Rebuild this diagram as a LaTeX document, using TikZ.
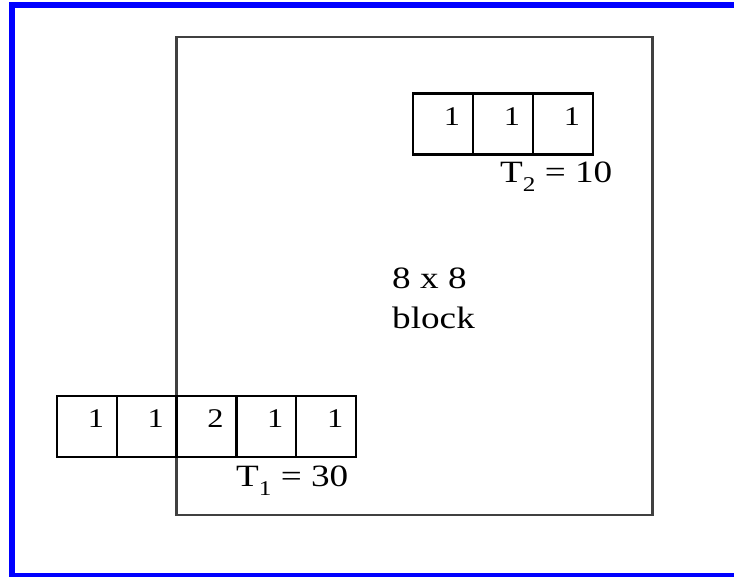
\documentclass[tikz,border=0pt]{standalone}
\usepackage{fontspec}
\setmainfont{Liberation Serif}[FakeStretch=1.2]
\newcommand\mysub[1]{\raisebox{-0.3em}{\fontsize{21}{21}\selectfont #1}}
\begin{document}
\begin{tikzpicture}[x=1pt,y=-1pt,
  frame/.style={draw=blue, line width=6pt},
  blockbox/.style={draw=black!75, line width=2.6pt},
  cell/.style={draw=black, line width=2.4pt, minimum width=59.8pt, minimum height=61pt, inner sep=0pt, outer sep=0pt},
  topcell/.style={cell, minimum width=60pt},
  num/.style={font=\fontsize{27}{27}\selectfont, inner sep=0pt},
  lbl/.style={font=\fontsize{31}{31}\selectfont, inner sep=0pt, anchor=base west}]
\useasboundingbox (0,0) rectangle (734,576);
\clip (0,0) rectangle (734,576);
\draw[frame] (12,5) rectangle (740,576);
\node[blockbox, minimum width=476pt, minimum height=478pt, inner sep=0pt, outer sep=0pt] (blk) at (414.5,276) {};
% top row
\foreach \i/\v in {0/1,1/1,2/1} {
  \node[topcell] (t\i) at (443+60*\i,124) {};
  \node[num, xshift=9pt, yshift=7pt] (tn\i) at (t\i) {\v};
}
% bottom row
\foreach \i/\v in {0/1,1/1,2/2,3/1,4/1} {
  \node[cell] (b\i) at (86.9+59.8*\i,426.5) {};
  \node[num, xshift=9pt, yshift=8pt] (bn\i) at (b\i) {\v};
}
\node[lbl] (t2) at (500,182) {T\mysub{2} = 10};
\node[lbl] (t1) at (236,486) {T\mysub{1} = 30};
\node[lbl] (l1) at (392,288) {8 x 8};
\node[lbl] (l2) at (392,328) {block};
\end{tikzpicture}
\end{document}
